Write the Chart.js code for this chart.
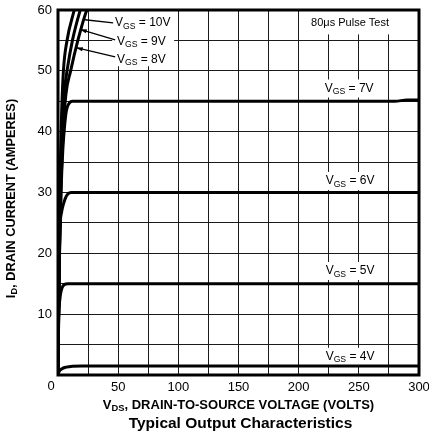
<!DOCTYPE html>
<html>
<head>
<meta charset="utf-8">
<script src="https://cdn.jsdelivr.net/npm/chart.js@4.4.1/dist/chart.umd.min.js"></script>
<style>
html, body { margin: 0; padding: 0; background: #fff; }
#chart { display: block; }
</style>
</head>
<body>
<canvas id="chart" width="429" height="435"></canvas>
<script>
// drain current (A) against drain-source voltage (V), one pair per gate voltage
const vds4 = [0, 1, 3, 7, 12, 20, 50, 100, 150, 200, 250, 300];
const id4  = [0, 0.6, 1.0, 1.3, 1.45, 1.5, 1.5, 1.5, 1.5, 1.5, 1.5, 1.5];

const vds5 = [0, 0.4, 1, 2, 3.5, 5.5, 8, 20, 50, 100, 150, 200, 250, 300];
const id5  = [0, 7, 11, 13.2, 14.4, 14.9, 15, 15, 15, 15, 15, 15, 15, 15];

const vds6 = [0, 0.4, 0.9, 1.7, 3, 4.4, 6, 8, 11, 20, 50, 100, 150, 200, 250, 300];
const id6  = [0, 10, 18, 24.4, 26.8, 28, 29, 29.7, 30, 30, 30, 30, 30, 30, 30, 30];

const vds7 = [0, 0.5, 1.3, 2.5, 4, 5.5, 7, 9, 12, 30, 100, 200, 280, 290, 300];
const id7  = [0, 10, 20, 30, 37, 41, 43.5, 44.6, 45, 45, 45, 45, 45, 45.2, 45.2];

const vds8 = [0, 0.5, 1.3, 2.5, 4, 6.5, 10.5, 16.5, 24, 27];
const id8  = [0, 10, 21, 31, 39, 46, 50, 55, 60, 61];

const vds9 = [0, 0.5, 1.2, 2.2, 3.5, 5.5, 7.5, 12, 18.5, 21];
const id9  = [0, 11, 23, 33, 41, 47, 50, 55, 60, 61.5];

const vds10 = [0, 0.5, 1.2, 2, 3, 4.5, 7.5, 13.5, 16];
const id10  = [0, 12, 25, 35, 43, 50, 55, 60, 62];

const xLabels = [50, 100, 150, 200, 250, 300];
const yLabels = [10, 20, 30, 40, 50, 60];

const FONT = '"Liberation Sans", Arial, Helvetica, sans-serif';

function toPoints(xs, ys) {
    return xs.map((x, i) => ({ x: x, y: ys[i] }));
}

function curve(xs, ys) {
    return {
        data: toPoints(xs, ys),
        showLine: true,
        borderColor: '#000',
        borderWidth: 3,
        pointRadius: 0,
        cubicInterpolationMode: 'monotone'
    };
}

// text with a subscript piece, like V_GS
function drawRich(ctx, x, y, pieces, size, weight, align) {
    let w = 0;
    for (const p of pieces) {
        ctx.font = weight + ' ' + (p.sub ? size * 0.72 : size) + 'px ' + FONT;
        w += ctx.measureText(p.t).width;
    }
    let cx = x;
    if (align === 'center') cx = x - w / 2;
    if (align === 'right') cx = x - w;
    ctx.textAlign = 'left';
    ctx.textBaseline = 'middle';
    for (const p of pieces) {
        ctx.font = weight + ' ' + (p.sub ? size * 0.72 : size) + 'px ' + FONT;
        ctx.fillText(p.t, cx, p.sub ? y + size * 0.28 : y);
        cx += ctx.measureText(p.t).width;
    }
    return w;
}

function vgs(v) {
    return [{ t: 'V' }, { t: 'GS', sub: true }, { t: ' = ' + v }];
}

// right side labels, centre in data units
const sideLabels = [
    { text: vgs('7V'), x: 242, y: 47.1 },
    { text: vgs('6V'), x: 242.7, y: 31.9 },
    { text: vgs('5V'), x: 242.7, y: 17.1 },
    { text: vgs('4V'), x: 242.7, y: 3.0 }
];

// steep curve labels, left edge in data units
const steepLabels = [
    { text: vgs('10V'), x: 47.4, y: 57.9, from: [22.4, 58.4], to: [45.8, 57.9], arrow: false },
    { text: vgs('9V'), x: 49, y: 54.8, from: [18.3, 56.8], to: [47.5, 55.1], arrow: true },
    { text: vgs('8V'), x: 49, y: 51.9, from: [15, 53.8], to: [47.5, 52.3], arrow: true }
];

const labelPlugin = {
    id: 'labels',
    beforeDatasetsDraw(chart) {
        const ctx = chart.ctx;
        const xs = chart.scales.x, ys = chart.scales.y;
        ctx.save();
        ctx.fillStyle = '#fff';
        // blank areas behind the texts
        ctx.fillRect(xs.getPixelForValue(239) - 32, ys.getPixelForValue(57.8) - 13, 84, 24);
        for (const l of sideLabels) {
            const px = xs.getPixelForValue(l.x), py = ys.getPixelForValue(l.y);
            ctx.fillRect(px - 30, py - 9, 60, 18);
        }
        ctx.fillRect(xs.getPixelForValue(45), ys.getPixelForValue(59.8), 62, 55);
        ctx.restore();
    },
    afterDatasetsDraw(chart) {
        const ctx = chart.ctx;
        const xs = chart.scales.x, ys = chart.scales.y;
        ctx.save();
        ctx.fillStyle = '#000';
        ctx.strokeStyle = '#000';

        ctx.font = '11px ' + FONT;
        ctx.textAlign = 'center';
        ctx.textBaseline = 'middle';
        ctx.fillText('80\u03bcs Pulse Test', xs.getPixelForValue(242.7), ys.getPixelForValue(57.8));

        for (const l of sideLabels) {
            drawRich(ctx, xs.getPixelForValue(l.x), ys.getPixelForValue(l.y), l.text, 12, 'normal', 'center');
        }

        for (const l of steepLabels) {
            drawRich(ctx, xs.getPixelForValue(l.x), ys.getPixelForValue(l.y), l.text, 12, 'normal', 'left');
            const x1 = xs.getPixelForValue(l.from[0]), y1 = ys.getPixelForValue(l.from[1]);
            const x2 = xs.getPixelForValue(l.to[0]), y2 = ys.getPixelForValue(l.to[1]);
            ctx.lineWidth = 1.3;
            ctx.beginPath();
            ctx.moveTo(x1, y1);
            ctx.lineTo(x2, y2);
            ctx.stroke();
            if (l.arrow) {
                const a = Math.atan2(y2 - y1, x2 - x1);
                ctx.beginPath();
                ctx.moveTo(x1, y1);
                ctx.lineTo(x1 + 7 * Math.cos(a - 0.3), y1 + 7 * Math.sin(a - 0.3));
                ctx.lineTo(x1 + 7 * Math.cos(a + 0.3), y1 + 7 * Math.sin(a + 0.3));
                ctx.closePath();
                ctx.fill();
            }
        }
        ctx.restore();
    },
    afterDraw(chart) {
        const ctx = chart.ctx;
        const a = chart.chartArea;
        ctx.save();
        // frame
        ctx.strokeStyle = '#000';
        ctx.lineWidth = 3;
        ctx.strokeRect(a.left, a.top, a.right - a.left, a.bottom - a.top);

        ctx.fillStyle = '#000';
        // corner zero
        ctx.font = '13px ' + FONT;
        ctx.textAlign = 'center';
        ctx.textBaseline = 'middle';
        ctx.fillText('0', a.left - 7, a.bottom + 11);

        // axis titles
        const cx = (a.left + a.right) / 2;
        drawRich(ctx, cx, a.bottom + 30, [{ t: 'V' }, { t: 'DS', sub: true }, { t: ', DRAIN-TO-SOURCE VOLTAGE (VOLTS)' }], 13, 'bold', 'center');
        ctx.font = 'bold 15.5px ' + FONT;
        ctx.textAlign = 'center';
        ctx.fillText('Typical Output Characteristics', cx + 2, a.bottom + 49);

        ctx.translate(11, (a.top + a.bottom) / 2 + 6);
        ctx.rotate(-Math.PI / 2);
        drawRich(ctx, 0, 0, [{ t: 'I' }, { t: 'D', sub: true }, { t: ', DRAIN CURRENT (AMPERES)' }], 12.8, 'bold', 'center');
        ctx.restore();
    }
};

const ctx = document.getElementById('chart');

const chart = new Chart(ctx, {
    type: 'scatter',
    data: {
        datasets: [
            curve(vds4, id4),
            curve(vds5, id5),
            curve(vds6, id6),
            curve(vds7, id7),
            curve(vds8, id8),
            curve(vds9, id9),
            curve(vds10, id10)
        ]
    },
    options: {
        responsive: false,
        animation: false,
        devicePixelRatio: 1,
        layout: { padding: { top: 10, right: 10, left: 0, bottom: 0 } },
        plugins: {
            legend: { display: false },
            tooltip: { enabled: false }
        },
        scales: {
            x: {
                type: 'linear',
                min: 0,
                max: 300,
                afterFit(scale) {
                    scale.height = 60;
                    scale.paddingLeft = 0;
                    scale.paddingRight = 0;
                },
                border: { display: false },
                grid: { color: '#1a1a1a', lineWidth: 1, drawTicks: false },
                ticks: {
                    stepSize: 25,
                    padding: 5,
                    maxRotation: 0,
                    autoSkip: false,
                    color: '#000',
                    font: { family: FONT, size: 13 },
                    callback: (v) => xLabels.includes(v) ? String(v) : ''
                }
            },
            y: {
                type: 'linear',
                min: 0,
                max: 60,
                afterFit(scale) {
                    scale.width = 58;
                    scale.paddingTop = 0;
                    scale.paddingBottom = 0;
                },
                border: { display: false },
                grid: { color: '#1a1a1a', lineWidth: 1, drawTicks: false },
                ticks: {
                    stepSize: 5,
                    padding: 6,
                    autoSkip: false,
                    color: '#000',
                    font: { family: FONT, size: 13 },
                    callback: (v) => yLabels.includes(v) ? String(v) : ''
                }
            }
        }
    },
    plugins: [labelPlugin]
});
</script>
</body>
</html>
